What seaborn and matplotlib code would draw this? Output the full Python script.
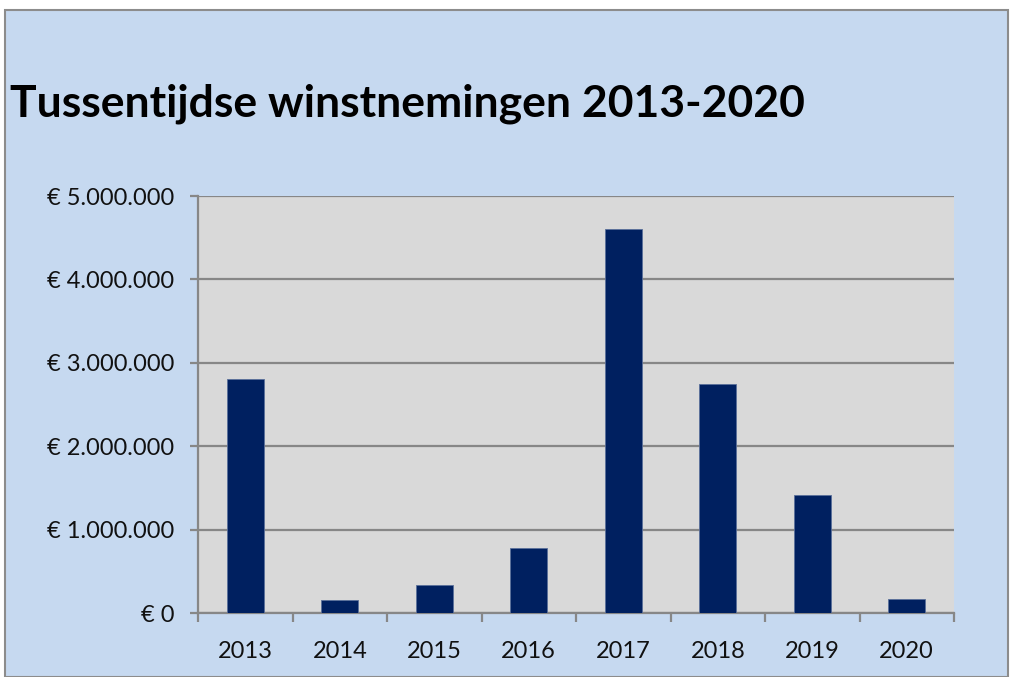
import matplotlib
matplotlib.use("Agg")
import matplotlib.pyplot as plt
import seaborn as sns
import pandas as pd
from matplotlib.patches import Rectangle
from matplotlib.ticker import FuncFormatter, FixedLocator

years = ["2013", "2014", "2015", "2016", "2017", "2018", "2019", "2020"]
values = [2810000, 160000, 340000, 780000, 4610000, 2750000, 1410000, 170000]
yticks = [0, 1000000, 2000000, 3000000, 4000000, 5000000]
title = "Tussentijdse winstnemingen 2013-2020"

df = pd.DataFrame({"jaar": years, "waarde": values})

sns.set_theme(style="white")
plt.rcParams["font.family"] = ["Lato", "DejaVu Sans"]

W, H = 1010, 677
fig = plt.figure(figsize=(W / 100, H / 100), dpi=100)
fig.patch.set_facecolor("white")
bg = Rectangle((5 / W, 0), (W - 7) / W, (H - 10) / H, transform=fig.transFigure,
               facecolor="#c6d9f0", edgecolor="#8c8c8c", linewidth=1.5, zorder=-10)
fig.patches.append(bg)

ax = fig.add_axes([198 / W, 64 / H, (954 - 198) / W, (613 - 196) / H])
ax.set_zorder(1)
ax.set_facecolor("#d9d9d9")
grid = "#878787"

sns.barplot(data=df, x="jaar", y="waarde", color="#002060", width=0.39,
            edgecolor="#5a6f9a", linewidth=0.6, saturation=1, ax=ax, zorder=3)

ax.set_ylim(0, 5000000)
ax.set_xlim(-0.5, len(years) - 0.5)
ax.set_yticks(yticks)
ax.yaxis.set_major_formatter(FuncFormatter(lambda v, p: "€ " + f"{int(v):,}".replace(",", ".")))
ax.grid(axis="y", color=grid, linewidth=1.6, zorder=1)
ax.set_axisbelow(True)
ax.set_xlabel("")
ax.set_ylabel("")

for s in ["top", "right"]:
    ax.spines[s].set_visible(False)
for s in ["left", "bottom"]:
    ax.spines[s].set_color(grid)
    ax.spines[s].set_linewidth(1.6)

ax.tick_params(axis="y", length=6, width=1.6, color=grid, labelsize=17, pad=11, labelcolor="#111111", left=True)
ax.tick_params(axis="x", which="major", length=0, labelsize=17, pad=20, labelcolor="#111111")
ax.xaxis.set_minor_locator(FixedLocator([i - 0.5 for i in range(len(years) + 1)]))
ax.tick_params(axis="x", which="minor", length=6.5, width=1.6, color=grid, bottom=True)

fig.text(10 / W, 1 - 117 / H, title, fontsize=32, fontweight="bold", color="black",
         ha="left", va="baseline")

fig.savefig("out.png", dpi=100, facecolor=fig.get_facecolor())
